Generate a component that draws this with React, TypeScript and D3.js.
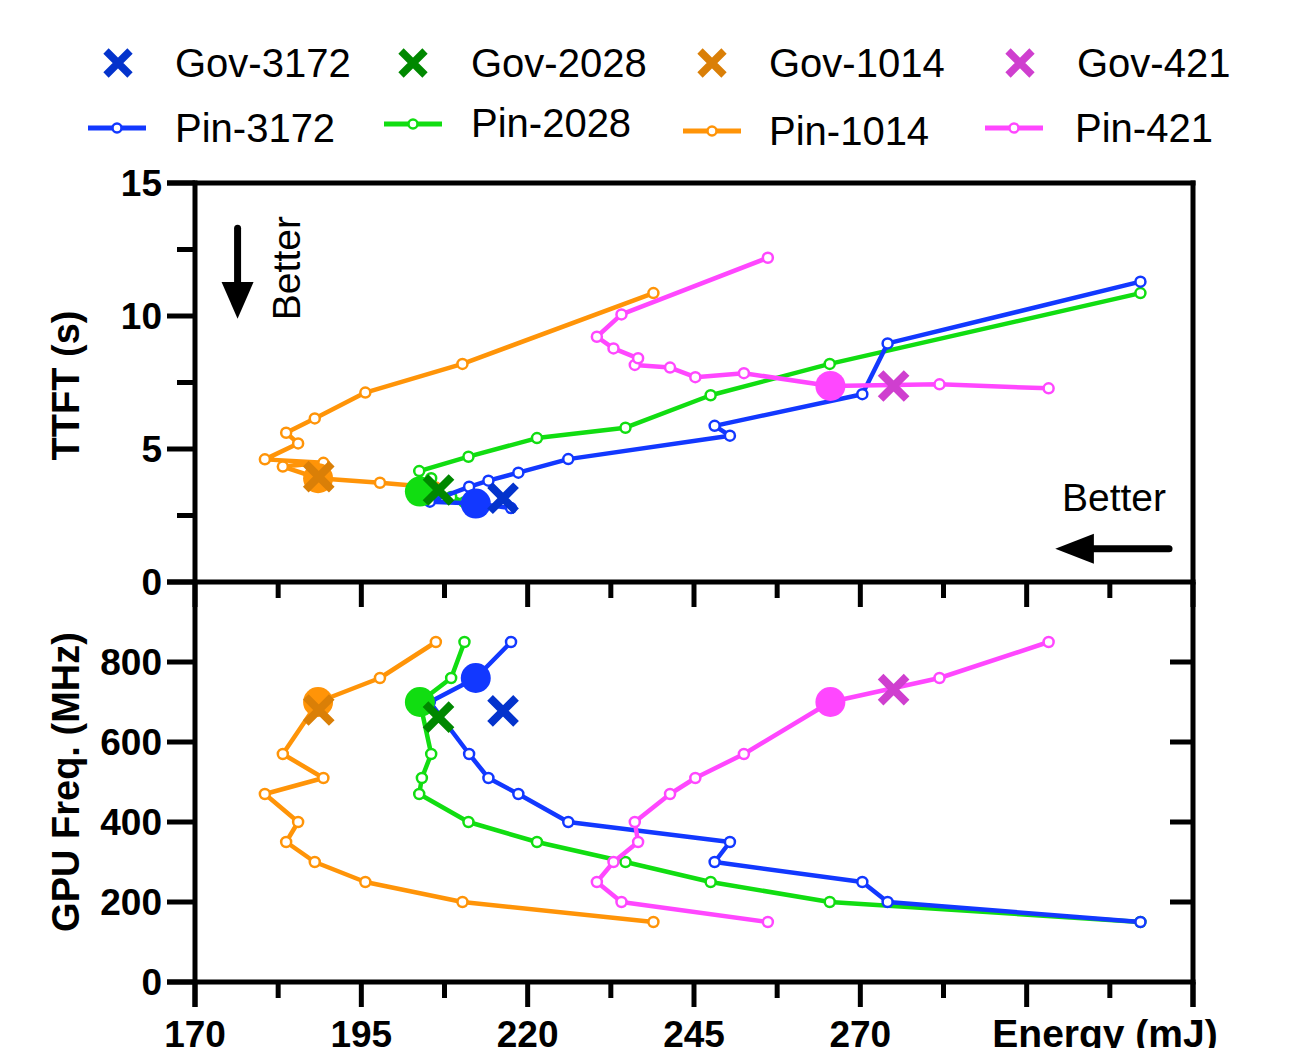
import * as d3 from "d3";

// GPU frequency steps (MHz), shared by every pinned sweep
const FREQ_STEPS = [850, 760, 700, 570, 510, 470, 400, 350, 300, 250, 200, 150];

const PIN_3172_ENERGY = [217.5, 212.2, 205.3, 211.2, 214.1, 218.6, 226.1, 250.4, 248.1, 270.3, 274.1, 312.1];
const PIN_3172_TTFT = [2.78, 2.95, 3.02, 3.58, 3.81, 4.11, 4.62, 5.5, 5.87, 7.06, 8.97, 11.29];

const PIN_2028_ENERGY = [210.5, 208.5, 203.8, 205.5, 204.1, 203.7, 211.1, 221.4, 234.7, 247.5, 265.4, 312.1];
const PIN_2028_TTFT = [3.0, 3.2, 3.4, 3.9, 3.65, 4.17, 4.71, 5.41, 5.8, 7.02, 8.2, 10.86];

const PIN_1014_ENERGY = [206.2, 197.8, 188.5, 183.2, 189.3, 180.5, 185.5, 183.7, 188.0, 195.6, 210.2, 238.9];
const PIN_1014_TTFT = [3.55, 3.73, 3.9, 4.34, 4.48, 4.61, 5.21, 5.61, 6.15, 7.12, 8.2, 10.86];

const PIN_421_ENERGY = [298.3, 281.9, 265.5, 252.5, 245.2, 241.4, 236.1, 236.6, 232.9, 230.4, 234.1, 256.1];
const PIN_421_TTFT = [7.28, 7.43, 7.37, 7.85, 7.7, 8.06, 8.16, 8.41, 8.78, 9.22, 10.06, 12.19];

// index of the highlighted (large filled) point of each sweep
const PIN_BEST_INDEX = [1, 2, 2, 2];

const GOV_NAMES = ["Gov-3172", "Gov-2028", "Gov-1014", "Gov-421"];
const GOV_ENERGY = [216.3, 206.6, 188.6, 275.0];
const GOV_TTFT = [3.15, 3.46, 3.96, 7.37];
const GOV_FREQ = [678, 662, 680, 731];

const PIN_NAMES = ["Pin-3172", "Pin-2028", "Pin-1014", "Pin-421"];
const PIN_COLORS = ["#1238FF", "#11DD11", "#FF9408", "#FF47FF"];
const GOV_COLORS = ["#0433CC", "#008800", "#DA7F07", "#CF3FCF"];

const ENERGY_DOMAIN = [170, 320];
const ENERGY_LABELS = [170, 195, 220, 245, 270];
const TTFT_LABELS = [0, 5, 10, 15];
const FREQ_LABELS = [0, 200, 400, 600, 800];

const WIDTH = 1316;
const HEIGHT = 1048;
const PLOT = { left: 195, right: 1193, top: 183, mid: 582, bottom: 982 };
const FONT = "'Liberation Sans', Arial, Helvetica, sans-serif";
const AXIS_W = 5;

const pins = [
  { energy: PIN_3172_ENERGY, ttft: PIN_3172_TTFT },
  { energy: PIN_2028_ENERGY, ttft: PIN_2028_TTFT },
  { energy: PIN_1014_ENERGY, ttft: PIN_1014_TTFT },
  { energy: PIN_421_ENERGY, ttft: PIN_421_TTFT },
].map((s, i) => ({
  ...s,
  name: PIN_NAMES[i],
  color: PIN_COLORS[i],
  best: PIN_BEST_INDEX[i],
  points: FREQ_STEPS.map((f, j) => ({ freq: f, energy: s.energy[j], ttft: s.ttft[j] })),
}));

// drawing order: orange, green, blue, magenta
const DRAW_ORDER = [2, 1, 0, 3];

function Cross({ cx, cy, color, size = 13, width = 8 }) {
  return (
    <path
      d={`M${cx - size},${cy - size}L${cx + size},${cy + size}M${cx - size},${cy + size}L${cx + size},${cy - size}`}
      stroke={color}
      strokeWidth={width}
      fill="none"
    />
  );
}

export default function App() {
  const x = d3.scaleLinear().domain(ENERGY_DOMAIN).range([PLOT.left, PLOT.right]);
  const yT = d3.scaleLinear().domain([0, 15]).range([PLOT.mid, PLOT.top]);
  const yF = d3.scaleLinear().domain([0, 1000]).range([PLOT.bottom, PLOT.mid]);

  const xTicks = d3.range(170, 320.01, 12.5);
  const isMajorX = (v) => Math.abs((v - 170) % 25) < 1e-6;

  const panels = [
    { y: yT, key: "ttft" },
    { y: yF, key: "freq" },
  ];

  return (
    <div style={{ position: "absolute", left: 0, top: 0 }}>
      <svg width={WIDTH} height={HEIGHT} viewBox={`0 0 ${WIDTH} ${HEIGHT}`} style={{ display: "block", background: "#fff" }}>
        {/* legend */}
        {GOV_NAMES.map((name, i) => {
          const cx = [118, 413, 712, 1020][i];
          const lx = [175, 471, 769, 1077][i];
          return (
            <g key={name}>
              <Cross cx={cx} cy={63} color={GOV_COLORS[i]} size={12} width={7.5} />
              <text x={lx} y={77} fontFamily={FONT} fontSize={40} fill="#000">{name}</text>
            </g>
          );
        })}
        {PIN_NAMES.map((name, i) => {
          const x0 = [88, 384, 683, 985][i];
          const ly = [128, 124, 131, 128][i];
          const lx = [175, 471, 769, 1075][i];
          const base = [142, 137, 145, 142][i];
          return (
            <g key={name}>
              <line x1={x0} x2={x0 + 58} y1={ly} y2={ly} stroke={PIN_COLORS[i]} strokeWidth={5} />
              <circle cx={x0 + 29} cy={ly} r={4.5} fill="#fff" stroke={PIN_COLORS[i]} strokeWidth={2.5} />
              <text x={lx} y={base} fontFamily={FONT} fontSize={40} fill="#000">{name}</text>
            </g>
          );
        })}

        {/* series */}
        {panels.map((p) => (
          <g key={p.key}>
            {DRAW_ORDER.map((i) => {
              const s = pins[i];
              const line = d3
                .line()
                .x((d) => x(d.energy))
                .y((d) => p.y(d[p.key]));
              return (
                <g key={s.name}>
                  <path d={line(s.points)} fill="none" stroke={s.color} strokeWidth={4.5} strokeLinejoin="round" />
                  {s.points.map((d, j) =>
                    j === s.best ? null : (
                      <circle key={j} cx={x(d.energy)} cy={p.y(d[p.key])} r={5} fill="#fff" stroke={s.color} strokeWidth={2.5} />
                    )
                  )}
                </g>
              );
            })}
            {DRAW_ORDER.map((i) => {
              const s = pins[i];
              const d = s.points[s.best];
              return <circle key={s.name} cx={x(d.energy)} cy={p.y(d[p.key])} r={15} fill={s.color} />;
            })}
            {GOV_NAMES.map((name, i) => (
              <Cross
                key={name}
                cx={x(GOV_ENERGY[i])}
                cy={p.y(p.key === "ttft" ? GOV_TTFT[i] : GOV_FREQ[i])}
                color={GOV_COLORS[i]}
              />
            ))}
          </g>
        ))}

        {/* frame */}
        <g stroke="#000" strokeWidth={AXIS_W} fill="none">
          <line x1={PLOT.left} x2={PLOT.left} y1={PLOT.top - 2.5} y2={PLOT.bottom + 25} />
          <line x1={PLOT.right} x2={PLOT.right} y1={PLOT.top - 2.5} y2={PLOT.bottom + 25} />
          <line x1={PLOT.left - 28} x2={PLOT.right + 2.5} y1={PLOT.top} y2={PLOT.top} />
          <line x1={PLOT.left - 28} x2={PLOT.right + 2.5} y1={PLOT.mid} y2={PLOT.mid} />
          <line x1={PLOT.left - 28} x2={PLOT.right + 2.5} y1={PLOT.bottom} y2={PLOT.bottom} />
          {/* TTFT ticks */}
          {d3.range(0, 15.01, 2.5).map((v) => (
            <line key={`t${v}`} x1={PLOT.left - (v % 5 === 0 ? 28 : 18)} x2={PLOT.left} y1={yT(v)} y2={yT(v)} />
          ))}
          {/* frequency ticks, left and mirrored right */}
          {FREQ_LABELS.map((v) => (
            <g key={`f${v}`}>
              <line x1={PLOT.left - 28} x2={PLOT.left} y1={yF(v)} y2={yF(v)} />
              {v > 0 && <line x1={PLOT.right - 23} x2={PLOT.right} y1={yF(v)} y2={yF(v)} />}
            </g>
          ))}
          {/* energy ticks on the shared mid axis and the bottom axis */}
          {xTicks.map((v) => (
            <g key={`x${v}`}>
              <line x1={x(v)} x2={x(v)} y1={PLOT.mid} y2={PLOT.mid + (isMajorX(v) ? 25 : 16)} />
              <line x1={x(v)} x2={x(v)} y1={PLOT.bottom} y2={PLOT.bottom + (isMajorX(v) ? 25 : 16)} />
            </g>
          ))}
        </g>

        {/* tick labels */}
        <g fontFamily={FONT} fontWeight="bold" fontSize={37} fill="#000">
          {TTFT_LABELS.map((v) => (
            <text key={`tl${v}`} x={PLOT.left - 33} y={yT(v) + 13} textAnchor="end">{v}</text>
          ))}
          {FREQ_LABELS.map((v) => (
            <text key={`fl${v}`} x={PLOT.left - 33} y={yF(v) + 13} textAnchor="end">{v}</text>
          ))}
          {ENERGY_LABELS.map((v) => (
            <text key={`el${v}`} x={x(v)} y={1047} textAnchor="middle">{v}</text>
          ))}
          <text x={1105} y={1047} textAnchor="middle" fontSize={39}>Energy (mJ)</text>
          <text transform={`translate(79, ${(PLOT.top + PLOT.mid) / 2 + 3}) rotate(-90)`} textAnchor="middle" fontSize={38}>TTFT (s)</text>
          <text transform={`translate(79, ${(PLOT.mid + PLOT.bottom) / 2}) rotate(-90)`} textAnchor="middle" fontSize={38}>GPU Freq. (MHz)</text>
        </g>

        {/* "Better" annotations */}
        <g fill="#000">
          <line x1={x(176.4)} x2={x(176.4)} y1={yT(13.3)} y2={yT(11)} stroke="#000" strokeWidth={7} strokeLinecap="round" />
          <path d={`M${x(176.4) - 16},${yT(11.28)}L${x(176.4) + 16},${yT(11.28)}L${x(176.4)},${yT(9.9)}Z`} />
          <text transform={`translate(300, ${yT(11.8)}) rotate(-90)`} textAnchor="middle" fontFamily={FONT} fontSize={39}>Better</text>
          <text x={1062} y={511} fontFamily={FONT} fontSize={39}>Better</text>
          <line x1={x(316.4)} x2={x(304)} y1={yT(1.25)} y2={yT(1.25)} stroke="#000" strokeWidth={7} strokeLinecap="round" />
          <path d={`M${x(305.1)},${yT(1.25) - 15}L${x(305.1)},${yT(1.25) + 15}L${x(299.3)},${yT(1.25)}Z`} />
        </g>
      </svg>
    </div>
  );
}
